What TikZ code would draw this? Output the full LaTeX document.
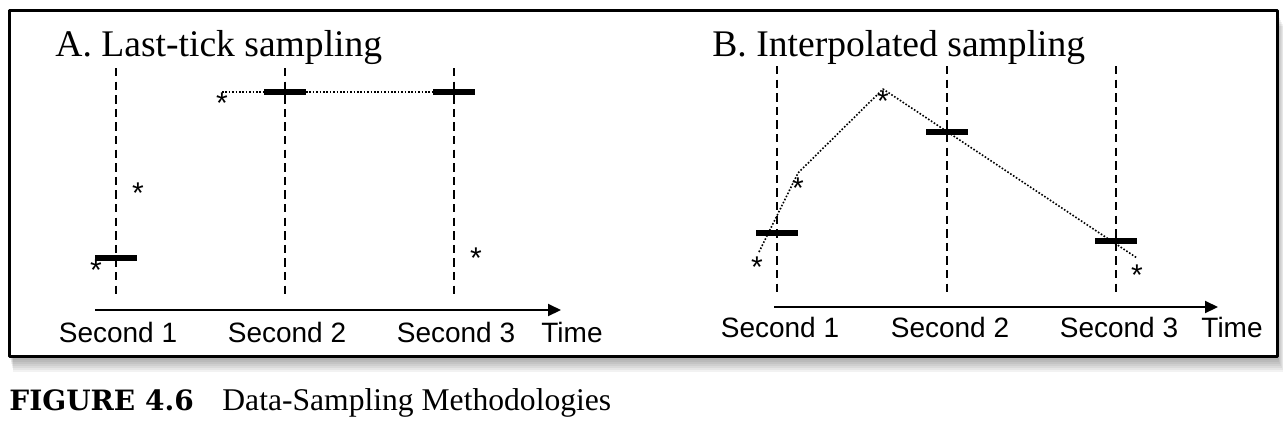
\documentclass[tikz,border=0pt]{standalone}
\usepackage{fontspec}
\setmainfont{Liberation Serif}
\setsansfont{Liberation Sans}
\newfontfamily\capfont{DejaVu Serif}
\usetikzlibrary{arrows.meta}
\begin{document}
\begin{tikzpicture}[x=0.5pt,y=-0.5pt,line join=round,>={Triangle[length=6.5pt,width=6pt]},
	secline/.style={line width=1pt,dash pattern=on 4.2pt off 2.6pt},
	tickbar/.style={fill=black,inner sep=0pt,outer sep=0pt,minimum width=21pt,minimum height=3pt},
	interp/.style={line width=0.8pt,dash pattern=on 0.8pt off 0.9pt},
	star/.style={font=\sffamily\fontsize{15}{15}\selectfont,inner sep=0pt,yshift=-3.3pt},
	lab/.style={font=\sffamily\fontsize{14}{16}\selectfont,anchor=base,inner sep=0pt},
	ttl/.style={font=\fontsize{18.8}{22}\selectfont,anchor=base west,inner sep=0pt}]
	\useasboundingbox (0,0) rectangle (1288,430);
	\foreach \k in {1,...,8}\fill[black,opacity=0.05] (9+0.5*\k,10+2*\k) rectangle (1277+0.8*\k,356+2*\k);
	\draw[line width=1.5pt,fill=white] (9,10) rectangle (1277,356);
	\node[ttl] (ta) at (55,56) {A. Last-tick sampling};
	\foreach \x[count=\i] in {116,285,454}{\draw[secline] (\x,68)--(\x,298);
		\node[lab] (la\i) at (\x+2,342) {Second \i};}
	\node[lab] (lat) at (572,342) {Time};
	\coordinate (oa) at (95,310);
	\coordinate (ea) at (561,310);
	\draw[->,line width=1pt] (oa)--(ea);
	\node[tickbar] (a1) at (116,258) {};
	\node[tickbar] (a2) at (285,92) {};
	\node[tickbar] (a3) at (454,92) {};
	\node[star] (sa1) at (96,264) {*};
	\node[star] (sa2) at (138,187) {*};
	\node[star] (sa3) at (222,97) {*};
	\node[star] (sa4) at (476,252) {*};
	\coordinate (ka) at (222,92);
	\draw[interp] (ka)--(a2.west) (a2.east)--(a3.west);
	\node[ttl] (tb) at (712,56) {B. Interpolated sampling};
	\foreach \x[count=\i] in {777,947,1116}{\draw[secline] (\x,66)--(\x,295);
		\node[lab] (lb\i) at (\x+3,337) {Second \i};}
	\node[lab] (lbt) at (1232,337) {Time};
	\coordinate (ob) at (774,307);
	\coordinate (eb) at (1218,307);
	\draw[->,line width=1pt] (ob)--(eb);
	\node[tickbar] (b1) at (777,233) {};
	\node[tickbar] (b2) at (947,132) {};
	\node[tickbar] (b3) at (1116,241) {};
	\node[star] (sb1) at (757,261) {*};
	\node[star] (sb2) at (798,182) {*};
	\node[star] (sb3) at (883,95) {*};
	\node[star] (sb4) at (1137,269) {*};
	\coordinate (m1) at (759,252);
	\coordinate (m2) at (798,173);
	\coordinate (m3) at (883,89);
	\coordinate (m4) at (1137,258);
	\draw[interp] (m1)--(m2)--(m3)--(m4);
	\node[anchor=base west,inner sep=0pt,font=\capfont\bfseries\fontsize{14}{16}\selectfont] (fig) at (9,410) {FIGURE 4.6};
	\node[anchor=base west,inner sep=0pt,font=\fontsize{15.8}{18}\selectfont] (cap) at (222,410) {Data-Sampling Methodologies};
\end{tikzpicture}
\end{document}
